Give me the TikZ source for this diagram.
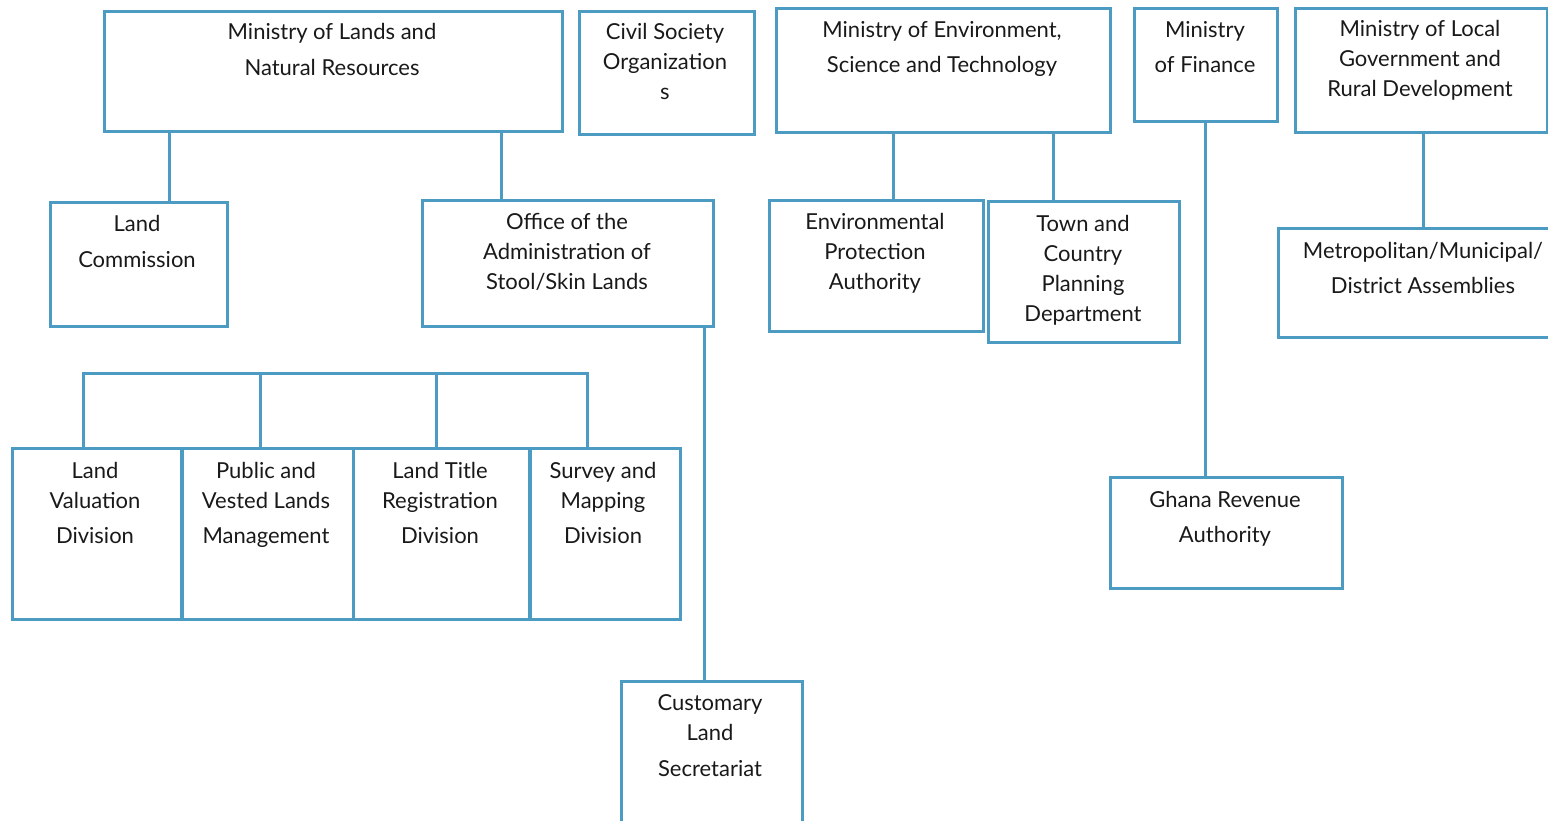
\documentclass[tikz,border=0pt]{standalone}
\usepackage{fontspec}
\setmainfont{Lato}

\begin{document}
\begin{tikzpicture}[x=1pt,y=-1pt,
  box/.style={draw=linec, line width=3pt, rectangle, inner sep=0pt, anchor=north west},
  txt/.style={align=center, anchor=base, inner sep=0pt, text=black!90,
    font=\fontsize{22}{30}\selectfont},
  link/.style={draw=linec, line width=3pt}]

% Colors
\definecolor{linec}{RGB}{75,155,195} % border blue

\useasboundingbox (0,0) rectangle (1548,821);
\clip (0,0) rectangle (1548,821);

% === TOP ROW: MINISTRIES ===
\node[box, minimum width=458pt, minimum height=120pt] (mlnr) at (103,10) {};
\node[txt] (mlnr-t) at (332,76) {Ministry of Lands and\\[6pt]Natural Resources};

\node[box, minimum width=175pt, minimum height=123pt] (cso) at (578,10) {};
\node[txt] (cso-t) at (665,100) {Civil Society\\Organization\\s};

\node[box, minimum width=334pt, minimum height=124pt] (mest) at (775,7) {};
\node[txt] (mest-t) at (942,73) {Ministry of Environment,\\[5pt]Science and Technology};

\node[box, minimum width=143pt, minimum height=113pt] (mof) at (1133,7) {};
\node[txt] (mof-t) at (1205,73) {Ministry\\[5pt]of Finance};

\node[box, minimum width=252pt, minimum height=124pt] (mlgrd) at (1294,7) {};
\node[txt] (mlgrd-t) at (1420,97) {Ministry of Local\\Government and\\Rural Development};

% === SECOND ROW ===
\node[box, minimum width=177pt, minimum height=124pt] (lc) at (49,201) {};
\node[txt] (lc-t) at (137,268) {Land\\[6pt]Commission};

\node[box, minimum width=291pt, minimum height=126pt] (oasl) at (421,199) {};
\node[txt] (oasl-t) at (567,290) {Office of the\\Administration of\\Stool/Skin Lands};

\node[box, minimum width=214pt, minimum height=131pt] (epa) at (768,199) {};
\node[txt] (epa-t) at (875,290) {Environmental\\Protection\\Authority};

\node[box, minimum width=191pt, minimum height=141pt] (tcpd) at (987,200) {};
\node[txt] (tcpd-t) at (1083,321) {Town and\\Country\\Planning\\Department};

\node[box, minimum width=300pt, minimum height=109pt] (mmda) at (1277,227) {};
\node[txt] (mmda-t) at (1423,293) {Metropolitan/Municipal/\\[5pt]District Assemblies};

% === DIVISIONS ===
\node[box, minimum width=169pt, minimum height=171pt] (lvd) at (11,447) {};
\node[txt] (lvd-t) at (95,543) {Land\\Valuation\\[5pt]Division};

\node[box, minimum width=171pt, minimum height=171pt] (pvlm) at (181,447) {};
\node[txt] (pvlm-t) at (266,543) {Public and\\Vested Lands\\[5pt]Management};

\node[box, minimum width=176pt, minimum height=171pt] (ltrd) at (352,447) {};
\node[txt] (ltrd-t) at (440,543) {Land Title\\Registration\\[5pt]Division};

\node[box, minimum width=150pt, minimum height=171pt] (smd) at (529,447) {};
\node[txt] (smd-t) at (603,543) {Survey and\\Mapping\\[5pt]Division};

% === LOWER BOXES ===
\node[box, minimum width=232pt, minimum height=111pt] (gra) at (1109,476) {};
\node[txt] (gra-t) at (1225,542) {Ghana Revenue\\[5pt]Authority};

\node[box, minimum width=181pt, minimum height=170pt] (cls) at (620,680) {};
\node[txt] (cls-t) at (710,776) {Customary\\Land\\[6pt]Secretariat};

% === CONNECTORS ===
\draw[link] (mlnr.south -| 169,0) -- (lc.north -| 169,0);
\draw[link] (mlnr.south -| 501,0) -- (oasl.north -| 501,0);
\draw[link] (oasl.south -| 704,0) -- (cls.north -| 704,0);
\draw[link] (mest.south -| 893,0) -- (epa.north -| 893,0);
\draw[link] (mest.south -| 1053,0) -- (tcpd.north -| 1053,0);
\draw[link] (mof.south -| 1205,0) -- (gra.north -| 1205,0);
\draw[link] (mlgrd.south -| 1423,0) -- (mmda.north -| 1423,0);

% bracket over the divisions
\coordinate (bar-l) at (83,373);
\coordinate (bar-r) at (587,373);
\draw[link] (lvd.north -| bar-l) -- (bar-l) -- (bar-r) -- (smd.north -| bar-r);
\draw[link] (pvlm.north -| 260,0) -- (260,373);
\draw[link] (ltrd.north -| 436,0) -- (436,373);

\end{tikzpicture}
\end{document}
